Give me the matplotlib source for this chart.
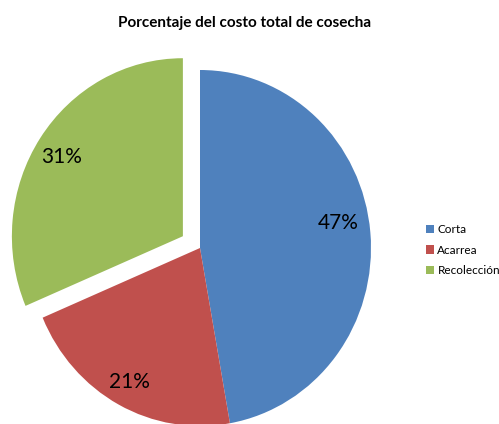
import matplotlib.pyplot as plt

# data
labels = ['Corta', 'Acarrea', 'Recolección']
values = [47.2, 21.4, 31.4]
colors = ['#4F81BD', '#C0504D', '#9BBB59']
explode = [0, 0, 0.12]
# label spots (pie units), Excel style placement
pct_pos = [(0.807, 0.14), (-0.41, -0.753), (-0.807, 0.511)]

plt.rcParams['font.family'] = ['Lato', 'DejaVu Sans']

W, H = 499, 424
fig = plt.figure(figsize=(W / 100, H / 100), dpi=100)

# pie in pixel-ish units: center (200, 248), radii 171 x 178 px
cx, cy, rx, ry = 200, 248, 171, 178
lim = 1.4
ax = fig.add_axes([(cx - lim * rx) / W, (H - cy - lim * ry) / H,
                   2 * lim * rx / W, 2 * lim * ry / H])

wedges, texts, autotexts = ax.pie(values, colors=colors, explode=explode,
                                  startangle=90, counterclock=False,
                                  autopct='%1.0f%%', pctdistance=0.82,
                                  textprops={'fontsize': 15})
for w in wedges:
    w.set_linewidth(0)
for t, p in zip(autotexts, pct_pos):
    t.set_position(p)
ax.set_xlim(-lim, lim)
ax.set_ylim(-lim, lim)
ax.set_aspect('auto')
ax.axis('off')

fig.text(245 / W, 1 - 23 / H, 'Porcentaje del costo total de cosecha',
         ha='center', va='center', fontsize=11, fontweight='bold')

fig.legend(wedges, labels, loc='center left', bbox_to_anchor=(415 / W, 1 - 250 / H),
           frameon=False, fontsize=8.5, handlelength=0.7, handleheight=0.7,
           handletextpad=0.3, labelspacing=0.8)

fig.savefig('out.png', dpi=100)
